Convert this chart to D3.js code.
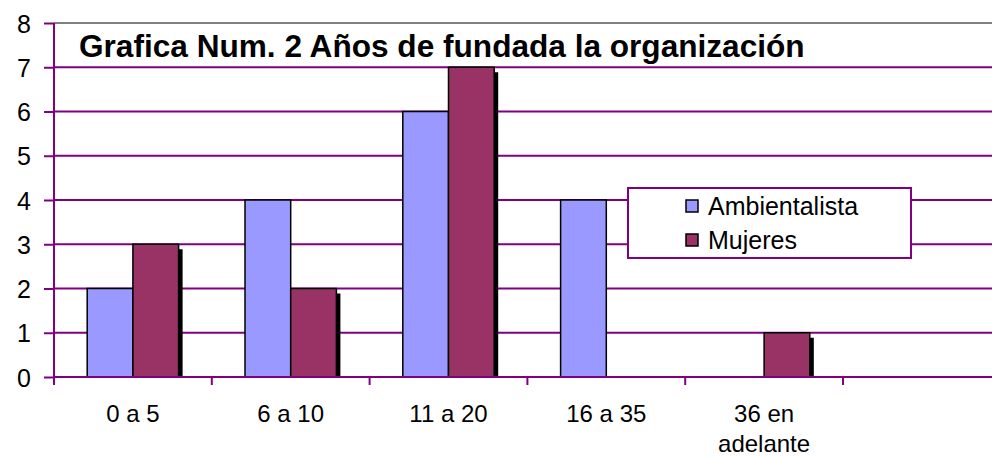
<!DOCTYPE html>
<html>
<head>
<meta charset="utf-8">
<script src="https://cdn.jsdelivr.net/npm/d3@7"></script>
<style>
  html, body { margin: 0; padding: 0; background: #fff; }
  svg { display: block; font-family: "Liberation Sans", Arial, sans-serif; }
</style>
</head>
<body>
<svg id="chart" width="992" height="457"></svg>
<script>
const categories = ["0 a 5", "6 a 10", "11 a 20", "16 a 35", "36 en adelante", ""];
const seriesNames = ["Ambientalista", "Mujeres"];
const ambientalista = [2, 4, 6, 4, 0, 0];
const mujeres = [3, 2, 7, 0, 1, 0];
const yTicks = [0, 1, 2, 3, 4, 5, 6, 7, 8];
const titleText = "Grafica Num. 2 Años de fundada la organización";

const colors = { Ambientalista: "#9999FF", Mujeres: "#993366" };
const purple = "#800080";

const svg = d3.select("#chart");
const left = 54, bandW = 157.8;
const x0 = d3.scaleBand().domain(categories).range([left, left + bandW * categories.length]).padding(0);
const x1 = d3.scaleBand().domain(seriesNames).range([33.2, bandW - 33.2]).padding(0);
const y = d3.scaleLinear().domain([0, 8]).range([377, 23]);

// gridlines
svg.append("g").selectAll("line").data(yTicks.filter(d => d > 0 && d < 8)).join("line")
  .attr("x1", left).attr("x2", 992)
  .attr("y1", d => y(d)).attr("y2", d => y(d))
  .attr("stroke", purple).attr("stroke-width", 2);
// top border
svg.append("line").attr("x1", left).attr("x2", 992).attr("y1", y(8)).attr("y2", y(8))
  .attr("stroke", "#808080").attr("stroke-width", 2);

// bars
const data = categories.map((c, i) => ({ cat: c, values: [
  { s: "Ambientalista", v: ambientalista[i] },
  { s: "Mujeres", v: mujeres[i] }
]}));
const groups = svg.append("g").selectAll("g").data(data).join("g")
  .attr("transform", d => `translate(${x0(d.cat)},0)`);
groups.each(function(d) {
  const g = d3.select(this);
  d.values.forEach(o => {
    if (o.v <= 0) return;
    const bx = x1(o.s), bw = x1.bandwidth(), by = y(o.v), bh = y(0) - y(o.v);
    if (o.s === "Mujeres") {
      g.append("rect").attr("x", bx + 4).attr("y", by + 5).attr("width", bw).attr("height", bh - 5).attr("fill", "#000");
    }
    g.append("rect").attr("x", bx).attr("y", by).attr("width", bw).attr("height", bh)
      .attr("fill", colors[o.s]).attr("stroke", "#000").attr("stroke-width", 1.5);
  });
});

// y axis
const yAxis = svg.append("g").attr("transform", `translate(${left},0)`)
  .call(d3.axisLeft(y).tickValues(yTicks).tickSize(10).tickPadding(13).tickFormat(d3.format("d")));
yAxis.select(".domain").attr("stroke", purple).attr("stroke-width", 2).attr("d", `M0,${y(8)}V${y(0)}`);
yAxis.selectAll(".tick line").attr("stroke", purple).attr("stroke-width", 2);
yAxis.selectAll(".tick text").attr("font-size", 25).attr("fill", "#000")
  .attr("font-family", "Liberation Sans, Arial, sans-serif").attr("dy", "0.36em");

// x axis
const xAxis = svg.append("g").attr("transform", `translate(0,${y(0)})`)
  .call(d3.axisBottom(x0).tickSize(0).tickFormat(""));
xAxis.select(".domain").attr("stroke", purple).attr("stroke-width", 2).attr("d", `M${left},0H992`);
xAxis.selectAll(".tick line").remove();
svg.append("g").selectAll("line").data(categories).join("line")
  .attr("x1", d => x0(d)).attr("x2", d => x0(d))
  .attr("y1", y(0)).attr("y2", y(0) + 8)
  .attr("stroke", purple).attr("stroke-width", 2);

// x labels
const xl = svg.append("g").selectAll("text").data(categories.filter(c => c)).join("text")
  .attr("x", d => x0(d) + x0.bandwidth() / 2)
  .attr("y", 422)
  .attr("text-anchor", "middle").attr("font-size", 24).attr("fill", "#000");
xl.each(function(d) {
  const t = d3.select(this);
  const parts = d === "36 en adelante" ? ["36 en", "adelante"] : [d];
  parts.forEach((p, i) => {
    t.append("tspan").attr("x", x0(d) + x0.bandwidth() / 2).attr("dy", i === 0 ? 0 : 30).text(p);
  });
});

// title
svg.append("text").attr("x", 79).attr("y", 57).attr("font-size", 31.6).attr("font-weight", "bold")
  .attr("fill", "#000").text(titleText);

// legend
const lg = svg.append("g");
lg.append("rect").attr("x", 628).attr("y", 188).attr("width", 283).attr("height", 70)
  .attr("fill", "#fff").attr("stroke", purple).attr("stroke-width", 2);
seriesNames.forEach((s, i) => {
  const cy = 206 + i * 34;
  lg.append("rect").attr("x", 686).attr("y", cy - 6).attr("width", 12).attr("height", 12)
    .attr("fill", colors[s]).attr("stroke", "#000").attr("stroke-width", 1.5);
  lg.append("text").attr("x", 708).attr("y", cy + 9).attr("font-size", 25).attr("fill", "#000").text(s);
});
</script>
</body>
</html>
